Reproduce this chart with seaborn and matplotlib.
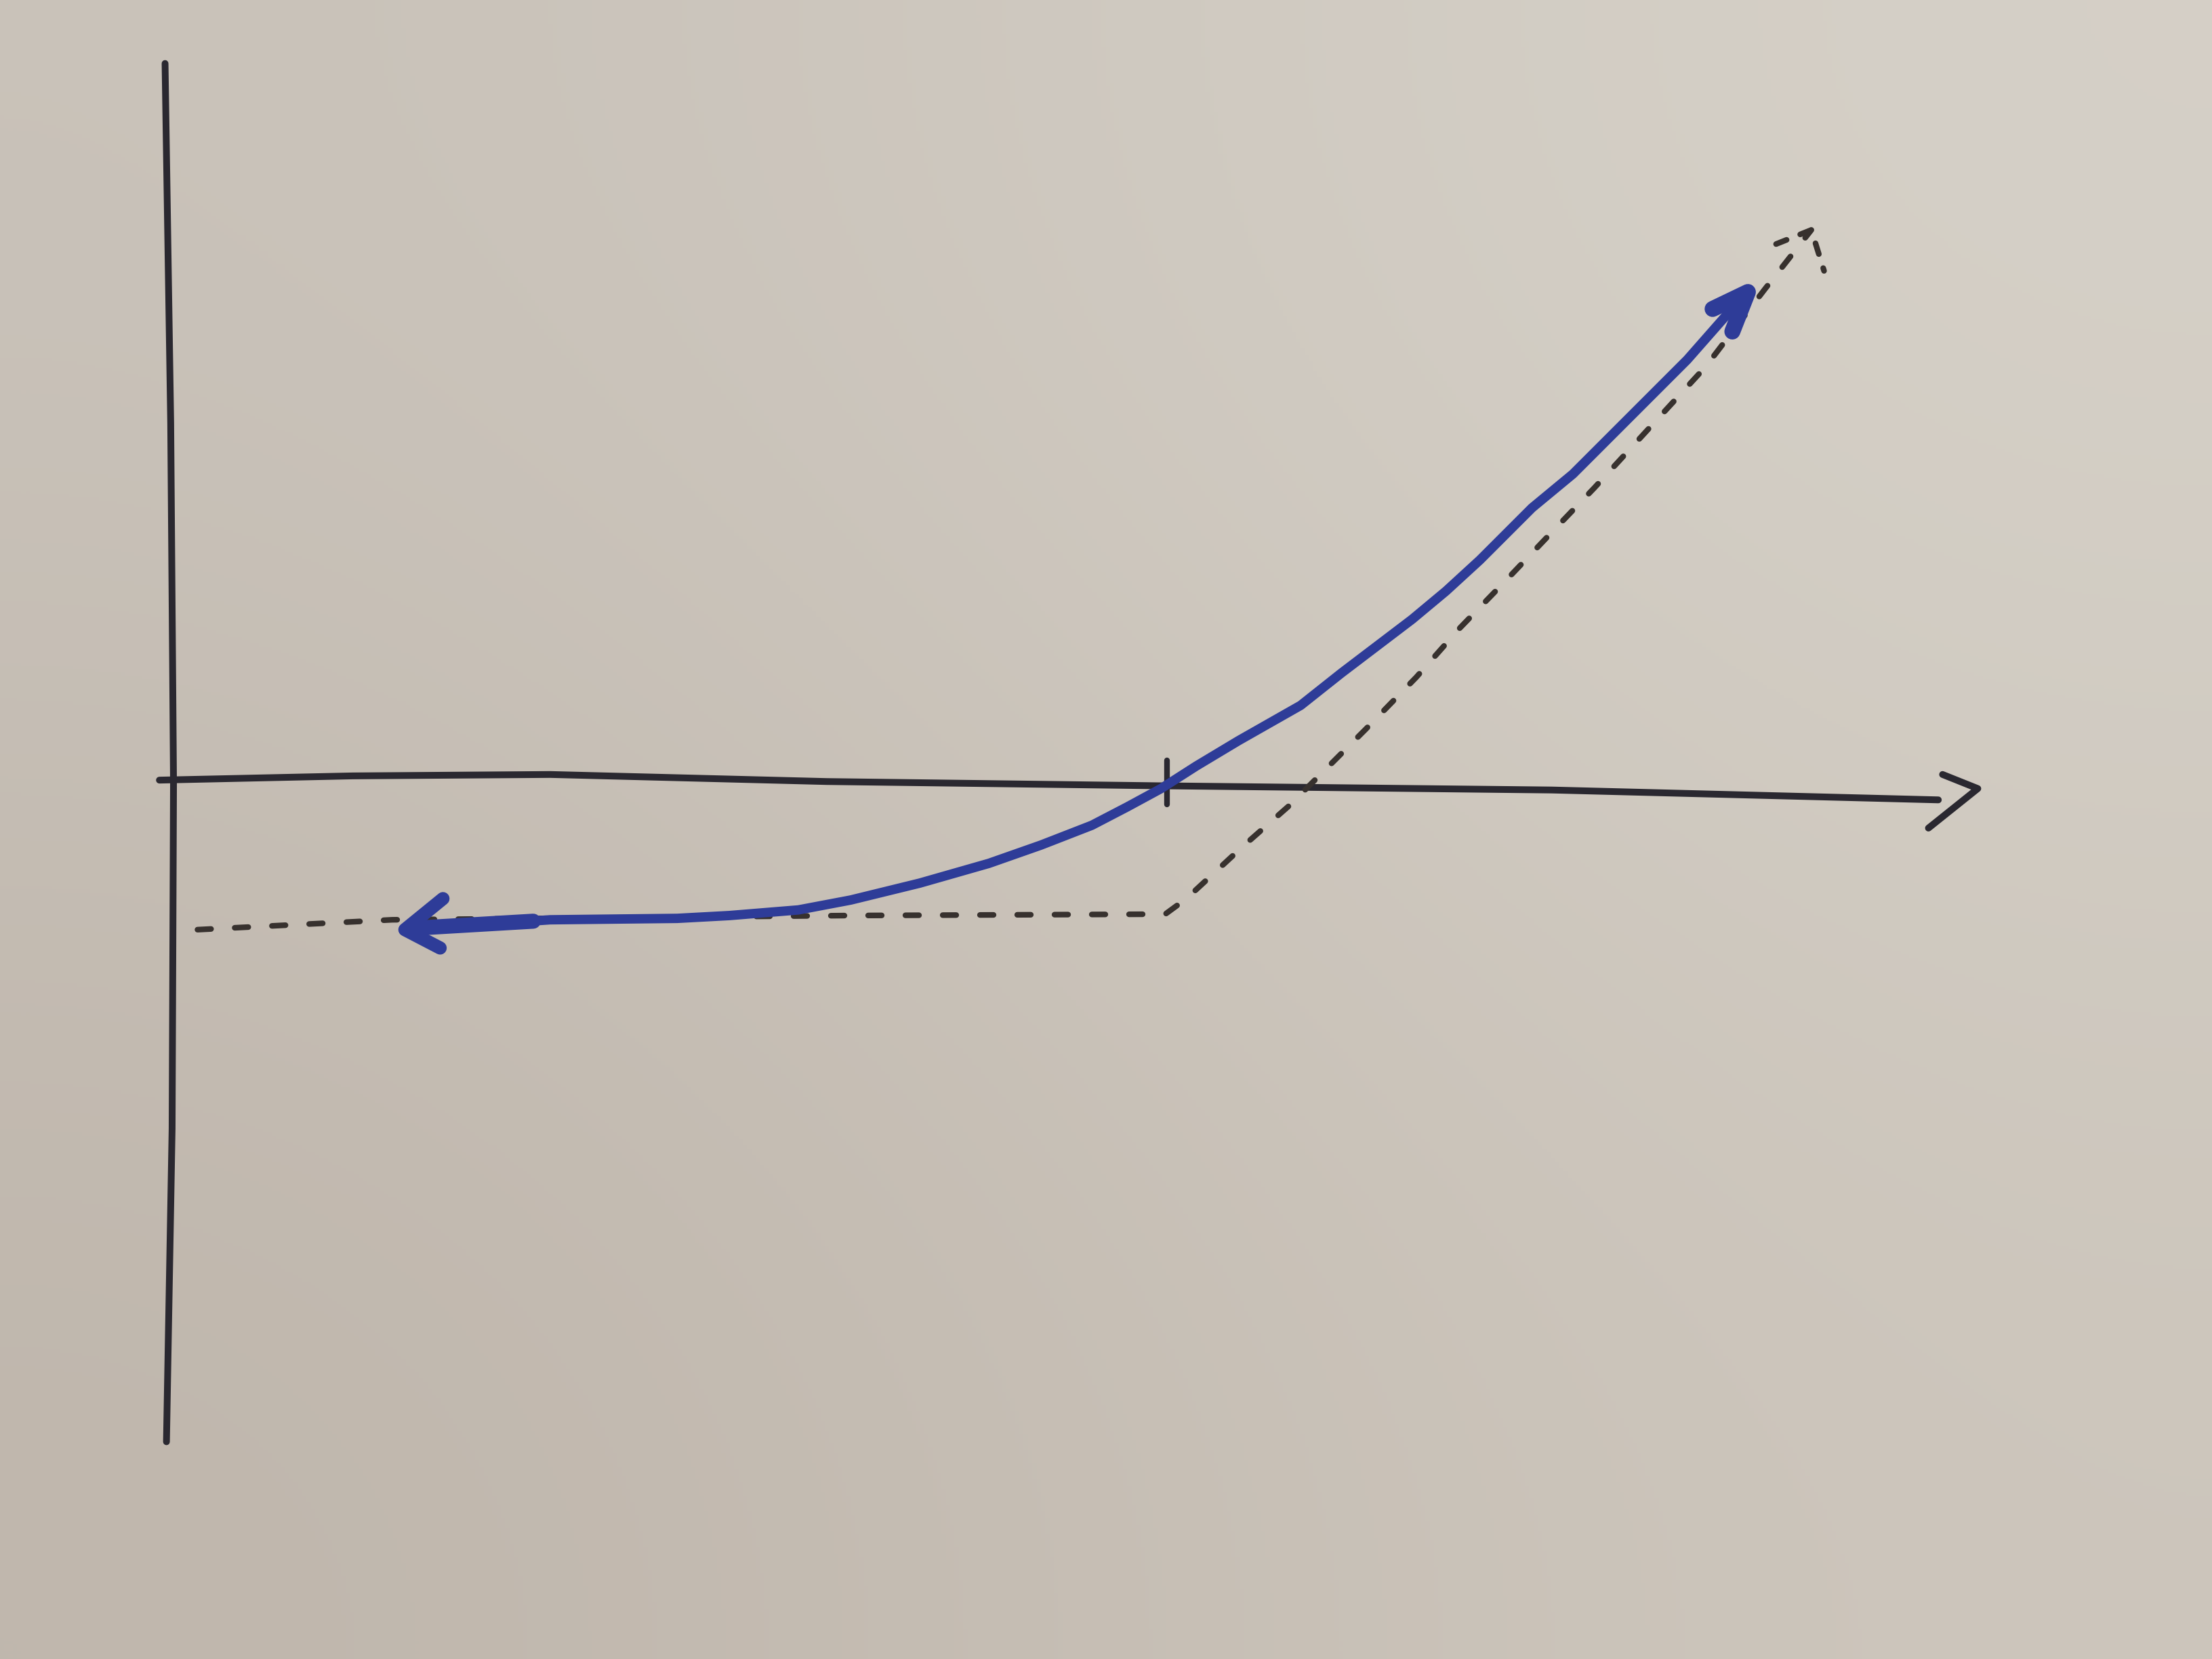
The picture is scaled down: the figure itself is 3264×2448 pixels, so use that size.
# hand-drawn option payoff sketch: dashed payoff at expiry and blue value curve

import numpy as np
import seaborn as sns
import matplotlib
matplotlib.use('Agg')
import matplotlib.pyplot as plt

# axes drawn by hand (slightly wobbly)
vaxis_x = [-0.06, -0.02, 0.00, -0.01, -0.05]
vaxis_y = [5.10, 2.55, 0.00, -2.45, -4.67]
haxis_x = [-0.10, 1.27, 2.67, 4.63, 6.98, 9.77, 12.51]
haxis_y = [0.02, 0.05, 0.06, 0.01, -0.02, -0.05, -0.12]
hhead_x = [12.54, 12.79, 12.44]
hhead_y = [0.06, -0.04, -0.32]
tick_x = [7.04, 7.04]
tick_y = [0.16, -0.15]

# payoff at expiry (dashed)
payoff_x = [0.17, 1.55, 4.78, 7.03, 7.18, 7.58, 7.91, 8.14, 8.45, 8.81, 9.12, 9.43,
            9.83, 10.07, 10.86, 11.28, 11.61]
payoff_y = [-1.04, -0.97, -0.94, -0.93, -0.82, -0.45, -0.16, 0.07, 0.38, 0.75, 1.10, 1.42,
            1.84, 2.09, 2.95, 3.50, 3.92]
phead_x = [11.36, 11.61, 11.70]
phead_y = [3.82, 3.92, 3.63]

# option value before expiry (blue)
value_x = [1.64, 2.67, 3.57, 3.94, 4.43, 4.80, 5.29, 5.78, 6.15, 6.51, 6.76, 7.00,
           7.25, 7.55, 7.99, 8.28, 8.78, 9.02, 9.26, 9.63, 9.92, 10.73, 11.17]
value_y = [-1.04, -0.97, -0.96, -0.94, -0.90, -0.83, -0.71, -0.57, -0.44, -0.30, -0.17, -0.04,
           0.12, 0.30, 0.55, 0.78, 1.16, 1.36, 1.58, 1.95, 2.19, 3.00, 3.50]
lstub_x = [1.70, 2.55]
lstub_y = [-1.03, -0.98]
lhead_x = [1.91, 1.64, 1.89]
lhead_y = [-0.82, -1.04, -1.17]
rhead_x = [10.91, 11.16, 11.05]
rhead_y = [3.36, 3.48, 3.20]

ink = '#2a2830'
blue = '#2e3c98'
pencil = '#37312e'

sns.set_style('white')
fig = plt.figure(figsize=(16.32, 12.24), dpi=200)
ax = fig.add_axes([0, 0, 1, 1])

# paper background, a bit lighter towards the top right
paper = np.array([[[201, 194, 185], [214, 209, 200]],
                  [[191, 182, 172], [205, 198, 188]]]) / 255
ax.imshow(paper, extent=[-1.23, 14.45, -6.21, 5.55], interpolation='bicubic',
          aspect='auto', zorder=0)

kw = dict(sort=False, estimator=None, ax=ax)
sns.lineplot(x=vaxis_x, y=vaxis_y, color=ink, lw=3.6, **kw)
sns.lineplot(x=haxis_x, y=haxis_y, color=ink, lw=3.6, **kw)
sns.lineplot(x=hhead_x, y=hhead_y, color=ink, lw=3.6, **kw)
sns.lineplot(x=tick_x, y=tick_y, color=ink, lw=3.0, **kw)

sns.lineplot(x=payoff_x, y=payoff_y, color=pencil, lw=3.0, **kw)
ax.lines[-1].set_dashes((2.4, 4.2))
sns.lineplot(x=phead_x, y=phead_y, color=pencil, lw=3.0, **kw)
ax.lines[-1].set_dashes((2.0, 2.6))

sns.lineplot(x=value_x, y=value_y, color=blue, lw=5.0, **kw)
sns.lineplot(x=lstub_x, y=lstub_y, color=blue, lw=8.0, **kw)
sns.lineplot(x=lhead_x, y=lhead_y, color=blue, lw=7.0, **kw)
sns.lineplot(x=rhead_x, y=rhead_y, color=blue, lw=8.5, **kw)

for ln in ax.lines:
    ln.set_solid_capstyle('round')
    ln.set_solid_joinstyle('round')
    ln.set_dash_capstyle('round')

ax.set_xlim(-1.23, 14.45)
ax.set_ylim(-6.21, 5.55)
ax.set_axis_off()
fig.savefig('out.png', dpi=200)
